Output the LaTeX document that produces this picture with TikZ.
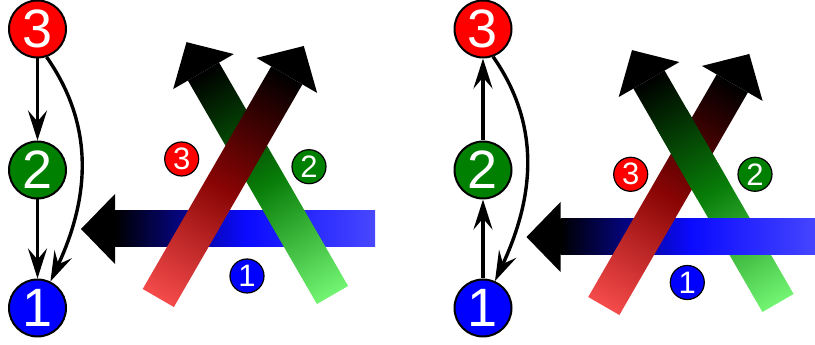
\documentclass[tikz,border=0pt]{standalone}
\usepackage{fontspec}
\setmainfont{Liberation Sans}
\usetikzlibrary{arrows.meta}

\definecolor{redtail}{RGB}{245,75,75}
\definecolor{redmid}{RGB}{136,4,4}
\definecolor{greentail}{RGB}{115,245,115}
\definecolor{greenmid}{RGB}{8,125,8}
\definecolor{bluetail}{RGB}{72,72,255}
\definecolor{bluemid}{RGB}{10,10,255}
\definecolor{webgreen}{RGB}{0,128,0}

% fat arrow: {tail}{angle}{shaft length}{tail colour}{middle colour}
\newcommand{\fatarrow}[5]{%
  \begin{scope}[transform canvas={shift={#1},rotate=#2}]
    \shade[left color=#4, right color=black, middle color=#5] (0,-18) rectangle (#3,18);
    \fill[black] (#3,-35) -- (#3+34,0) -- (#3,35) -- cycle;
  \end{scope}}

\begin{document}
\begin{tikzpicture}[x=1pt,y=1pt,
    state/.style={circle,draw=black,line width=2pt,minimum size=57pt,inner sep=0pt,text=white,font=\fontsize{54}{54}\selectfont},
    tag/.style={circle,draw=black,line width=1.2pt,minimum size=34pt,inner sep=0pt,text=white,font=\fontsize{31}{31}\selectfont},
    link/.style={line width=3.4pt,-{Stealth[length=30pt,width=19pt,inset=11pt]}}]
  \useasboundingbox (0,0) rectangle (815,345);

  % left: 3 over 2 over 1
  \node[state,fill=blue] (l1) at (37.5,37) {1};
  \node[state,fill=webgreen] (l2) at (37.5,175) {2};
  \node[state,fill=red] (l3) at (37.5,316) {3};
  \draw[link] (l3) -- (l2);
  \draw[link] (l2) -- (l1);
  \draw[link] (l3.-72) to[out=-55,in=65] (l1.64);

  \fatarrow{(375,116)}{180}{260}{bluetail}{bluemid}
  \fatarrow{(332.5,50)}{120}{258}{greentail}{greenmid}
  \fatarrow{(158.3,47)}{60}{257}{redtail}{redmid}

  \node[tag,fill=red] (lt3) at (181.7,186) {3};
  \node[tag,fill=webgreen] (lt2) at (309,178.3) {2};
  \node[tag,fill=blue] (lt1) at (247,69) {1};

  % right: 1 over 2 over 3 over 1
  \node[state,fill=blue] (r1) at (483,37) {1};
  \node[state,fill=webgreen] (r2) at (483,175) {2};
  \node[state,fill=red] (r3) at (483,316) {3};
  \draw[link] (r1) -- (r2);
  \draw[link] (r2) -- (r3);
  \draw[link] (r3.-70) to[out=-55,in=65] (r1.66);

  \fatarrow{(778,42)}{120}{258}{greentail}{greenmid}
  \fatarrow{(820.5,108)}{180}{260}{bluetail}{bluemid}
  \fatarrow{(603.8,39)}{60}{257}{redtail}{redmid}
  \begin{scope}
    \clip (691.8,191.3) circle (45);
    \fatarrow{(778,42)}{120}{258}{greentail}{greenmid}
  \end{scope}

  \node[tag,fill=red] (rt3) at (630.7,170.7) {3};
  \node[tag,fill=webgreen] (rt2) at (755,170.7) {2};
  \node[tag,fill=blue] (rt1) at (687.3,62.5) {1};
\end{tikzpicture}
\end{document}
